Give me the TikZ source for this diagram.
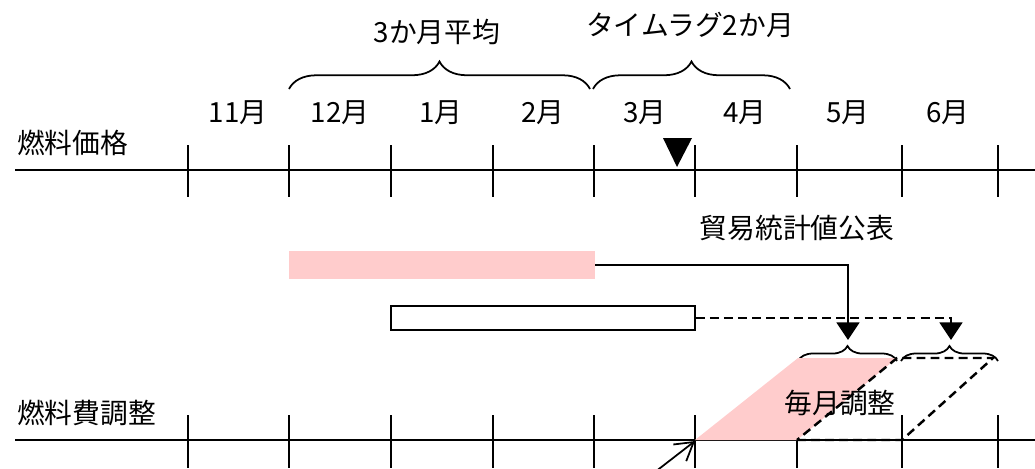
\documentclass[tikz,border=0pt]{standalone}
\usepackage{fontspec}
\setmainfont{Noto Sans CJK JP}
\usetikzlibrary{arrows.meta,decorations.pathreplacing}
\begin{document}
\begin{tikzpicture}[x=0.02cm, y=-0.02cm,
    font=\fontsize{15.8}{18}\selectfont,
    axis/.style={line width=1.4pt},
    longdash/.style={dash pattern=on 5pt off 3pt},
    conn/.style={line width=1pt, -{Triangle[width=13pt,length=10pt]}},
    topbrace/.style={line width=1pt, decorate, decoration={brace, amplitude=0.55cm}},
    lowbrace/.style={line width=1pt, decorate, decoration={brace, amplitude=0.3cm}}]
    \useasboundingbox (0,0) rectangle (1035,468);
    % time axes
    \draw[axis] (15,170) -- (1035,170);
    \draw[axis] (15,440) -- (1035,440);
    \foreach \x in {188,289,391,493,594,695,797,902,998} {
        \draw[axis] (\x,145) -- (\x,197);
        \draw[axis] (\x,415) -- (\x,468);
    }
    \foreach \m/\x in {11/238, 12/340, 1/441, 2/543, 3/645, 4/745, 5/848, 6/948}
        \node (m\m) at (\x,113) {\m 月};
    \node[anchor=west] (price) at (11,143) {燃料価格};
    \node[anchor=west] (adjust) at (11,413) {燃料費調整};
    % release marker
    \fill (663,138) -- (692,138) -- (677,167) -- cycle;
    \node (release) at (797,228) {貿易統計値公表};
    % upper braces
    \draw[topbrace] (289,89) -- (590,89);
    \draw[topbrace] (593,89) -- (790,89);
    \node (avg) at (437,32) {3か月平均};
    \node (lag) at (690,25) {タイムラグ2か月};
    % averaging bars
    \node[fill=red!20, minimum width=6.12cm, minimum height=0.56cm, inner sep=0] (avgbar) at (442,265) {};
    \node[draw, line width=1pt, minimum width=6.08cm, minimum height=0.48cm, inner sep=0] (lagbar) at (543,318) {};
    \coordinate (may) at (848,340);
    \coordinate (jun) at (951,340);
    \draw[conn] (avgbar.east) -| (may);
    \draw[conn, longdash] (lagbar.east) -| (jun);
    % lower braces
    \draw[lowbrace] (798,361) -- (897,361);
    \draw[lowbrace] (901,361) -- (998,361);
    % monthly adjustment
    \fill[red!20] (695,440) -- (797,440) -- (897,358) -- (798,358) -- cycle;
    \draw[line width=1.4pt, longdash] (797,440) -- (902,440) -- (993,358) -- (897,358) -- cycle;
    \node (monthly) at (840,403) {毎月調整};
    \coordinate (src) at (655,472);
    \coordinate (start) at (695,441);
    \draw[line width=1pt, -{Straight Barb[length=10pt,width=12pt]}] (src) -- (start);
\end{tikzpicture}
\end{document}
